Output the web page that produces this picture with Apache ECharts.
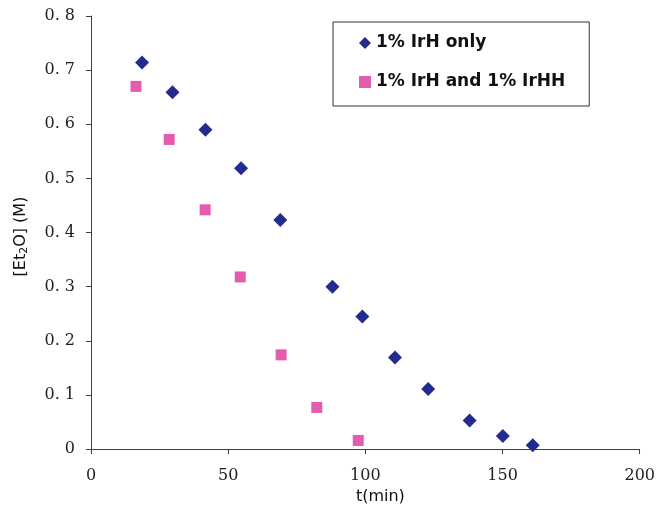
<!DOCTYPE html>
<html>
<head>
<meta charset="utf-8">
<script src="https://cdn.jsdelivr.net/npm/echarts@6/dist/echarts.min.js"></script>
<style>
  html, body { margin: 0; padding: 0; background: #fff; }
  #chart { width: 658px; height: 510px; }
</style>
</head>
<body>
<div id="chart"></div>
<script>
// data
const timeIrH = [18.6, 29.7, 41.7, 54.7, 69.0, 88.0, 98.9, 110.8, 122.9, 138.0, 150.1, 161.0]
const concIrH = [0.714, 0.659, 0.590, 0.519, 0.423, 0.300, 0.245, 0.169, 0.111, 0.053, 0.024, 0.007]
const timeBoth = [16.4, 28.5, 41.6, 54.4, 69.3, 82.3, 97.4]
const concBoth = [0.670, 0.572, 0.442, 0.318, 0.174, 0.077, 0.016]
const seriesNames = ['1% IrH only', '1% IrH and 1% IrHH']
const xTicks = [0, 50, 100, 150, 200]
const yTicks = [0, 0.1, 0.2, 0.3, 0.4, 0.5, 0.6, 0.7, 0.8]

const axisColor = '#4a3c38'
const labelFont = { fontFamily: 'DejaVu Serif', fontSize: 16, color: '#222' }

const pairs = (xs, ys) => xs.map((x, i) => [x, ys[i]])
const yLabel = v => (v === 0 ? '0' : v.toFixed(1).replace('.', '. '))

const chart = echarts.init(document.getElementById('chart'))

const option = {
  animation: false,
  backgroundColor: '#fff',
  grid: { left: 91, right: 17, top: 16, bottom: 58 },
  legend: {
    orient: 'vertical',
    left: 333,
    top: 22,
    padding: [11, 24, 14, 26],
    itemGap: 19,
    itemWidth: 12,
    itemHeight: 12,
    borderColor: '#333',
    borderWidth: 1,
    backgroundColor: '#fff',
    data: [
      { name: seriesNames[0], icon: 'diamond' },
      { name: seriesNames[1], icon: 'rect' }
    ],
    textStyle: { fontFamily: 'DejaVu Sans', fontSize: 17, fontWeight: 'bold', color: '#111', lineHeight: 20 }
  },
  xAxis: {
    type: 'value',
    min: xTicks[0],
    max: xTicks[xTicks.length - 1],
    interval: 50,
    splitLine: { show: false },
    axisLine: { onZero: false, lineStyle: { color: axisColor, width: 1 } },
    axisTick: { length: 5, lineStyle: { color: axisColor } },
    axisLabel: { ...labelFont, margin: 19 },
    name: 't(min)',
    nameLocation: 'middle',
    nameGap: 33,
    nameTextStyle: { fontFamily: 'DejaVu Sans', fontSize: 16, color: '#111', padding: [0, 0, 0, 30] }
  },
  yAxis: {
    type: 'value',
    min: yTicks[0],
    max: yTicks[yTicks.length - 1],
    interval: 0.1,
    splitLine: { show: false },
    axisLine: { show: true, onZero: false, lineStyle: { color: axisColor, width: 1 } },
    axisTick: { show: true, length: 5, lineStyle: { color: axisColor } },
    axisLabel: { ...labelFont, margin: 16, formatter: yLabel },
    name: '[Et{sub|2}O] (M)',
    nameLocation: 'middle',
    nameRotate: 90,
    nameGap: 61,
    nameTextStyle: {
      fontFamily: 'DejaVu Sans', fontSize: 16, color: '#111',
      padding: [0, 8, 0, 0],
      rich: { sub: { fontFamily: 'DejaVu Sans', fontSize: 11, verticalAlign: 'bottom', padding: [8, 0, 0, 0] } }
    }
  },
  series: [
    {
      name: seriesNames[0],
      type: 'scatter',
      symbol: 'diamond',
      symbolSize: 14,
      itemStyle: { color: '#232b8f', opacity: 1 },
      data: pairs(timeIrH, concIrH)
    },
    {
      name: seriesNames[1],
      type: 'scatter',
      symbol: 'rect',
      symbolSize: 11,
      itemStyle: { color: '#e35cad', opacity: 1 },
      data: pairs(timeBoth, concBoth)
    }
  ]
}

chart.setOption(option)
</script>
</body>
</html>
